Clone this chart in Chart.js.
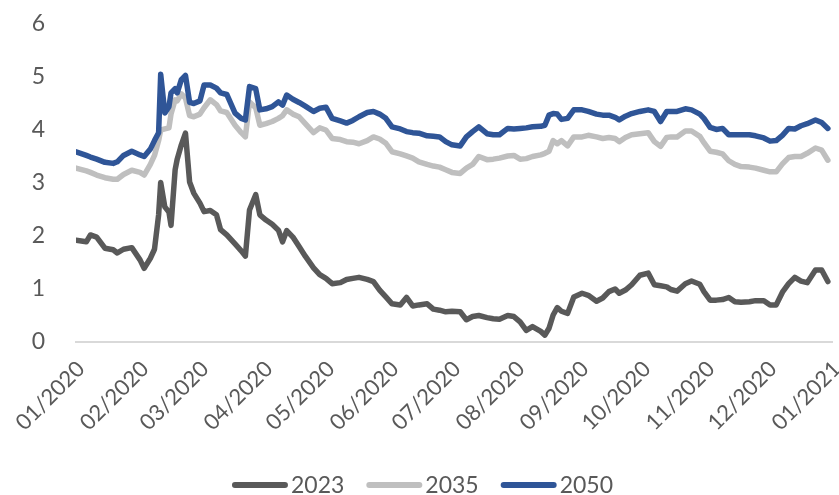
<!DOCTYPE html>
<html>
<head>
<meta charset="utf-8">
<script src="https://cdn.jsdelivr.net/npm/chart.js@4/dist/chart.umd.min.js"></script>
<style>
  html, body { margin:0; padding:0; background:#fff; }
  #wrap { width:839px; height:495px; }
</style>
</head>
<body>
<div id="wrap"><canvas id="yieldChart" width="839" height="495"></canvas></div>
<script>
// day of year (0 = 1 Jan 2020) for each observation
const days = [0,5,7,10,14,18,20,23,27,31,
  33,36,38,40,41,43,45,46,48,49,
  51,53,55,57,60,62,65,68,70,73,
  77,80,82,84,87,89,92,95,98,100,
  102,105,108,111,115,118,121,124,128,131,
  134,137,141,144,147,150,153,157,160,163,
  166,170,173,176,179,182,186,189,192,195,
  199,202,205,209,212,215,218,221,225,227,
  229,231,233,235,238,241,245,248,252,255,
  258,261,263,266,269,273,277,280,283,286,
  288,291,295,298,302,304,307,310,313,316,
  319,322,326,329,333,336,339,342,345,348,
  351,354,358,361,364];

const y2023 = [1.92,1.89,2.02,1.98,1.77,1.74,1.68,1.75,1.78,1.55,
  1.39,1.58,1.75,2.40,3.01,2.55,2.45,2.20,3.25,3.45,
  3.72,3.94,3.02,2.81,2.62,2.46,2.48,2.40,2.12,2.02,
  1.85,1.72,1.62,2.49,2.78,2.40,2.30,2.22,2.11,1.89,
  2.10,1.98,1.80,1.62,1.40,1.27,1.20,1.10,1.12,1.18,
  1.20,1.22,1.18,1.14,0.98,0.85,0.72,0.70,0.84,0.68,
  0.70,0.72,0.62,0.60,0.57,0.58,0.57,0.42,0.48,0.50,
  0.46,0.44,0.43,0.50,0.48,0.38,0.22,0.29,0.20,0.13,
  0.26,0.51,0.65,0.58,0.54,0.85,0.92,0.88,0.77,0.83,
  0.95,1.00,0.92,0.98,1.08,1.26,1.30,1.08,1.06,1.04,
  0.99,0.96,1.10,1.15,1.09,0.95,0.79,0.79,0.80,0.84,
  0.76,0.75,0.76,0.78,0.78,0.70,0.70,0.94,1.10,1.22,
  1.15,1.12,1.36,1.36,1.14];

const y2035 = [3.28,3.23,3.20,3.15,3.10,3.07,3.07,3.16,3.24,3.20,
  3.15,3.35,3.52,3.80,4.00,4.02,4.04,4.30,4.57,4.55,
  4.68,4.60,4.27,4.25,4.30,4.42,4.57,4.48,4.36,4.33,
  4.09,3.95,3.87,4.53,4.42,4.09,4.12,4.16,4.22,4.27,
  4.38,4.30,4.25,4.12,3.95,4.04,4.00,3.84,3.82,3.78,
  3.77,3.74,3.80,3.87,3.83,3.75,3.59,3.55,3.51,3.47,
  3.40,3.35,3.32,3.30,3.25,3.20,3.18,3.28,3.35,3.50,
  3.44,3.45,3.47,3.51,3.52,3.45,3.46,3.50,3.53,3.56,
  3.60,3.80,3.74,3.80,3.70,3.87,3.87,3.90,3.87,3.84,
  3.86,3.84,3.78,3.86,3.91,3.93,3.95,3.78,3.69,3.86,
  3.87,3.87,3.98,3.98,3.88,3.76,3.60,3.58,3.55,3.42,
  3.35,3.31,3.30,3.28,3.24,3.21,3.21,3.36,3.48,3.50,
  3.50,3.56,3.66,3.62,3.43];

const y2050 = [3.59,3.52,3.49,3.45,3.39,3.37,3.40,3.52,3.60,3.53,
  3.50,3.64,3.80,3.95,5.05,4.32,4.44,4.70,4.78,4.70,
  4.95,5.03,4.52,4.50,4.55,4.85,4.85,4.79,4.70,4.67,
  4.32,4.22,4.19,4.82,4.78,4.38,4.40,4.44,4.53,4.47,
  4.66,4.58,4.52,4.45,4.35,4.41,4.43,4.22,4.17,4.13,
  4.18,4.25,4.33,4.35,4.30,4.22,4.06,4.02,3.97,3.95,
  3.94,3.89,3.88,3.87,3.78,3.72,3.70,3.87,3.97,4.06,
  3.93,3.91,3.91,4.03,4.02,4.03,4.04,4.06,4.07,4.09,
  4.28,4.31,4.30,4.20,4.22,4.38,4.38,4.35,4.30,4.28,
  4.28,4.24,4.19,4.26,4.31,4.35,4.38,4.35,4.16,4.35,
  4.35,4.35,4.40,4.38,4.30,4.22,4.05,4.01,4.03,3.91,
  3.91,3.91,3.91,3.89,3.85,3.79,3.80,3.90,4.03,4.02,
  4.08,4.12,4.19,4.14,4.03];

// month starts on the x axis
const monthDays = [0,31,60,91,121,152,182,213,244,274,305,335,366];
const monthLabels = ["01/2020","02/2020","03/2020","04/2020","05/2020","06/2020",
  "07/2020","08/2020","09/2020","10/2020","11/2020","12/2020","01/2021"];

const seriesNames = ["2023","2035","2050"];
const seriesColors = ["#595959","#bfbfbf","#2f5597"];

const FONT = "Lato, 'Open Sans', sans-serif";
const TEXT = "#595959";

function pts(vals){ return vals.map((v,i)=>({x:days[i], y:v})); }

// legend drawn below the axis: short rounded bar + label, centred
const bottomLegend = {
  id: "bottomLegend",
  afterDraw(chart){
    const ctx = chart.ctx;
    const barW = 56, gap = 3, itemGap = 22, cy = 485;
    ctx.save();
    ctx.font = "23px " + FONT;
    const items = chart.data.datasets.map(ds=>({label:ds.label, color:ds.borderColor, w:ctx.measureText(ds.label).width}));
    let total = items.reduce((s,it)=>s+barW+gap+it.w,0) + itemGap*(items.length-1);
    let x = chart.width/2 - total/2 + 3;
    items.forEach(it=>{
      ctx.strokeStyle = it.color;
      ctx.lineWidth = 6;
      ctx.lineCap = "round";
      ctx.beginPath();
      ctx.moveTo(x+3, cy); ctx.lineTo(x+barW-3, cy);
      ctx.stroke();
      ctx.fillStyle = TEXT;
      ctx.textBaseline = "middle";
      ctx.textAlign = "left";
      ctx.fillText(it.label, x+barW+gap, cy+1);
      x += barW + gap + it.w + itemGap;
    });
    ctx.restore();
  }
};

const lineOpts = {borderWidth:5.5, pointRadius:0, tension:0, borderJoinStyle:"round", borderCapStyle:"round", fill:false};

new Chart(document.getElementById("yieldChart"), {
  type: "line",
  data: {
    datasets: [
      {label:seriesNames[0], data:pts(y2023), borderColor:seriesColors[0], order:3, ...lineOpts},
      {label:seriesNames[1], data:pts(y2035), borderColor:seriesColors[1], order:2, ...lineOpts},
      {label:seriesNames[2], data:pts(y2050), borderColor:seriesColors[2], order:1, ...lineOpts}
    ]
  },
  options: {
    responsive: false,
    animation: false,
    events: [],
    layout: { padding: {top:24, right:7, bottom:0, left:0} },
    plugins: { legend:{display:false}, tooltip:{enabled:false} },
    scales: {
      x: {
        type: "linear",
        min: 0, max: 366,
        grid: { display:false },
        border: { display:true, color:"#d9d9d9", width:2 },
        afterBuildTicks: (s)=>{ s.ticks = monthDays.map(v=>({value:v})); },
        afterFit: (s)=>{ s.height = 153; s.paddingLeft = 0; s.paddingRight = 0; },
        ticks: {
          autoSkip:false, maxRotation:45, minRotation:45, padding:6, labelOffset:5,
          color:TEXT, font:{family:FONT, size:22},
          callback: (v)=> monthLabels[monthDays.indexOf(v)]
        }
      },
      y: {
        min: 0, max: 6,
        grid: { display:false },
        border: { display:false },
        afterFit: (s)=>{ s.width = 76; s.paddingTop = 0; s.paddingBottom = 0; },
        ticks: { stepSize:1, padding:23, color:TEXT, font:{family:FONT, size:23} }
      }
    }
  },
  plugins: [bottomLegend]
});
</script>
</body>
</html>
